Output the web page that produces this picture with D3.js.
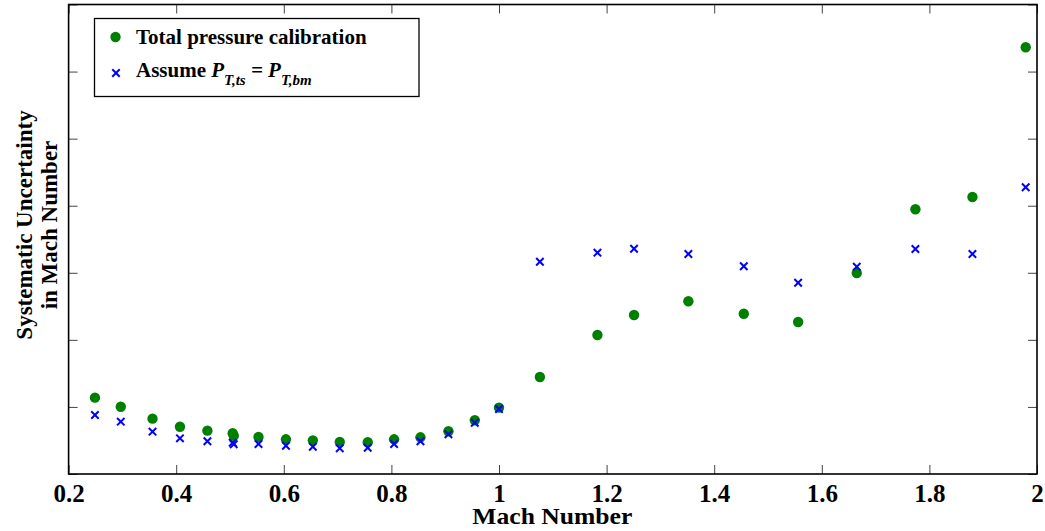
<!DOCTYPE html>
<html>
<head>
<meta charset="utf-8">
<script src="https://cdn.jsdelivr.net/npm/d3@7"></script>
<style>
  body { margin: 0; background: #fff; }
  svg text { font-family: "Liberation Serif", "Times New Roman", serif; font-weight: bold; }
</style>
</head>
<body>
<div id="graf"></div>
<script>
// Numero de Mach de cada punto
const mach = [0.249, 0.297, 0.356, 0.407, 0.458, 0.505, 0.507, 0.553, 0.604, 0.654, 0.704, 0.756,
  0.805, 0.854, 0.906, 0.955, 1.0, 1.076, 1.183, 1.251, 1.352, 1.455, 1.556, 1.665, 1.774, 1.880, 1.979]
// incertidumbre con calibracion de presion total
const totalCal = [1.138, 1.003, 0.825, 0.705, 0.646, 0.607, 0.571, 0.552, 0.517, 0.502, 0.477, 0.473,
  0.517, 0.547, 0.637, 0.801, 0.989, 1.446, 2.072, 2.371, 2.575, 2.390, 2.266, 2.997, 3.947, 4.130, 6.362]
// incertidumbre suponiendo P_T,ts = P_T,bm
const assumeEq = [0.880, 0.780, 0.631, 0.532, 0.488, 0.467, 0.443, 0.447, 0.422, 0.407, 0.383, 0.392,
  0.447, 0.488, 0.592, 0.765, 0.969, 3.165, 3.300, 3.359, 3.280, 3.097, 2.852, 3.091, 3.355, 3.280, 4.275]

const xTicks = [0.2, 0.4, 0.6, 0.8, 1, 1.2, 1.4, 1.6, 1.8, 2]
const yTicks = [0, 1, 2, 3, 4, 5, 6, 7]

const anchoTotal = 1045
const altoTotal = 531
const margins = { top: 4.5, right: 8, bottom: 57, left: 68.6 }
const ancho = anchoTotal - margins.left - margins.right
const alto = altoTotal - margins.top - margins.bottom

const svg = d3.select("#graf")
  .append("svg")
  .attr("width", anchoTotal)
  .attr("height", altoTotal)

const g = svg.append("g")
  .attr("transform", `translate(${margins.left}, ${margins.top})`)

// Escaladores
const x = d3.scaleLinear().domain([0.2, 2.0]).range([0, ancho])
const y = d3.scaleLinear().domain([0, 7]).range([alto, 0])

// Ejes con marcas hacia adentro
const tickCol = "#444"
const xAxis = g.append("g")
  .attr("transform", `translate(0, ${alto})`)
  .call(d3.axisBottom(x).tickValues(xTicks).tickSize(-9).tickPadding(10).tickFormat(d3.format("")))
xAxis.select(".domain").remove()
xAxis.selectAll("line").attr("stroke", tickCol)
xAxis.selectAll("text").attr("font-size", 25).attr("fill", "#000")

const xTop = g.append("g")
  .call(d3.axisTop(x).tickValues(xTicks).tickSize(-9).tickFormat(""))
xTop.select(".domain").remove()
xTop.selectAll("line").attr("stroke", tickCol)

const yLeft = g.append("g")
  .call(d3.axisLeft(y).tickValues(yTicks).tickSize(-9).tickFormat(""))
yLeft.select(".domain").remove()
yLeft.selectAll("line").attr("stroke", tickCol)

const yRight = g.append("g")
  .attr("transform", `translate(${ancho}, 0)`)
  .call(d3.axisRight(y).tickValues(yTicks).tickSize(-9).tickFormat(""))
yRight.select(".domain").remove()
yRight.selectAll("line").attr("stroke", tickCol)

// marco
g.append("rect")
  .attr("width", ancho).attr("height", alto)
  .attr("fill", "none").attr("stroke", "#000").attr("stroke-width", 1.6)

// puntos verdes
const idx = d3.range(mach.length)
g.selectAll("circle.tot")
  .data(idx)
  .enter()
  .append("circle")
  .attr("class", "tot")
  .attr("cx", i => x(mach[i]))
  .attr("cy", i => y(totalCal[i]))
  .attr("r", 5.2)
  .attr("fill", "#008000")

// cruces azules
const cruz = d3.symbol().type(d3.symbolX).size(38)
g.selectAll("path.asm")
  .data(idx)
  .enter()
  .append("path")
  .attr("class", "asm")
  .attr("d", cruz)
  .attr("transform", i => `translate(${x(mach[i])}, ${y(assumeEq[i])})`)
  .attr("fill", "none")
  .attr("stroke", "#0000ff")
  .attr("stroke-width", 2)

// Títulos de ejes
svg.append("text")
  .attr("x", margins.left + ancho / 2 - 0.5)
  .attr("y", 524)
  .attr("text-anchor", "middle")
  .attr("font-size", 24)
  .attr("textLength", 160)
  .attr("lengthAdjust", "spacingAndGlyphs")
  .text("Mach Number")

const yl = svg.append("text")
  .attr("transform", "translate(32, 225) rotate(-90)")
  .attr("text-anchor", "middle")
  .attr("font-size", 23)
yl.append("tspan").attr("x", 0).attr("dy", 0).text("Systematic Uncertainty")
yl.append("tspan").attr("x", 0).attr("dy", 25).text("in Mach Number")

// Leyenda
const leg = svg.append("g")
leg.append("rect")
  .attr("x", 94.5).attr("y", 18.5).attr("width", 324.5).attr("height", 78)
  .attr("fill", "#fff").attr("stroke", "#000").attr("stroke-width", 1.3)
leg.append("circle").attr("cx", 115.5).attr("cy", 37).attr("r", 5.2).attr("fill", "#008000")
leg.append("path").attr("d", cruz).attr("transform", "translate(116, 73)")
  .attr("fill", "none").attr("stroke", "#0000ff").attr("stroke-width", 2)
leg.append("text").attr("x", 136).attr("y", 44).attr("font-size", 21)
  .text("Total pressure calibration")
const t2 = leg.append("text").attr("x", 136).attr("y", 76.5).attr("font-size", 21)
t2.append("tspan").text("Assume ")
t2.append("tspan").attr("font-style", "italic").text("P")
t2.append("tspan").attr("font-style", "italic").attr("font-size", 15).attr("dy", 8).text("T,ts")
t2.append("tspan").attr("font-style", "italic").attr("dy", -8).text(" = P")
t2.append("tspan").attr("font-style", "italic").attr("font-size", 15).attr("dy", 8).text("T,bm")
</script>
</body>
</html>
